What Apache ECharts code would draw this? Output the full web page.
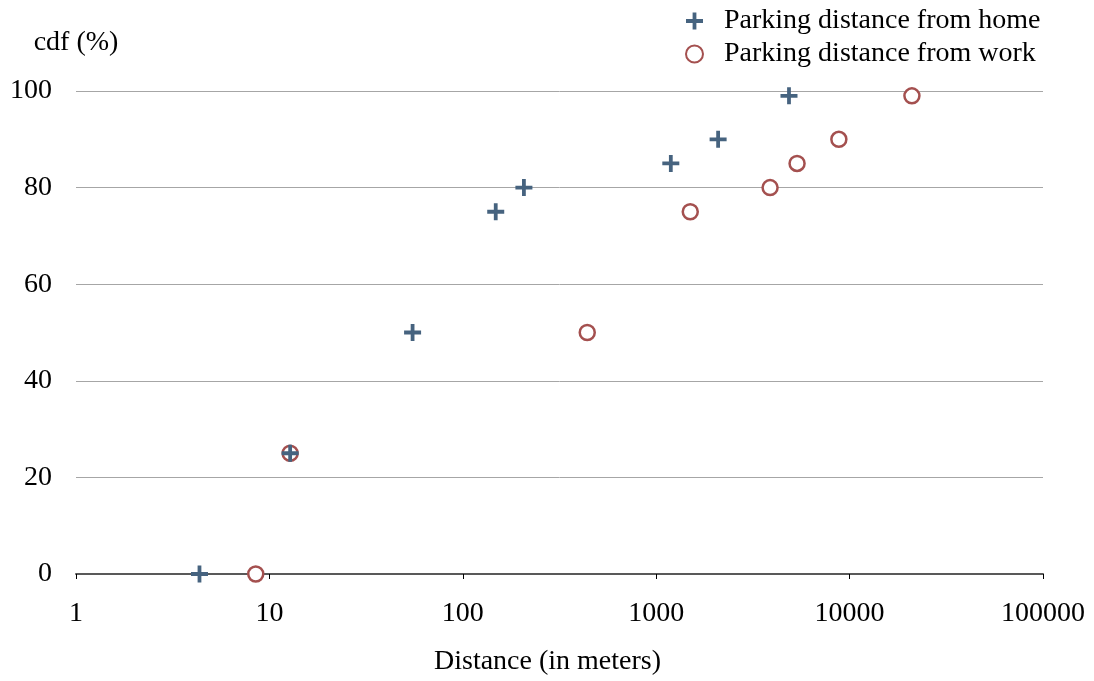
<!DOCTYPE html>
<html>
<head>
<meta charset="utf-8">
<script src="https://cdn.jsdelivr.net/npm/echarts@6/dist/echarts.min.js"></script>
<style>html,body{margin:0;padding:0;background:#fff;}#c{width:1094px;height:681px;}</style>
</head>
<body>
<div id="c"></div>
<script>
const seriesNames = ['Parking distance from home', 'Parking distance from work'];
const homeX = [4.35, 12.8, 55, 148, 207, 1190, 2090, 4860];
const homeY = [0, 25, 50, 75, 80, 85, 90, 99];
const workX = [8.5, 12.8, 440, 1500, 3880, 5350, 8800, 21000];
const workY = [0, 25, 50, 75, 80, 85, 90, 99];
const yTicks = [0, 20, 40, 60, 80, 100];

const FONT = 'Liberation Serif';
const FS = 28;
const plusPath = 'path://M7,0h4v7h7v4h-7v7h-4v-7h-7v-4h7z';
const chart = echarts.init(document.getElementById('c'), null, {renderer: 'canvas'});
chart.setOption({
  animation: false,
  backgroundColor: '#fff',
  textStyle: {fontFamily: FONT, color: '#000'},
  grid: {left: 76, right: 51, top: 91, bottom: 107},
  legend: {
    orient: 'vertical', left: 680, top: 2, itemGap: 5, itemWidth: 17, itemHeight: 17,
    data: seriesNames,
    textStyle: {fontFamily: FONT, fontSize: FS, color: '#000', padding: [0,0,0,16]}
  },
  xAxis: {
    type: 'log', logBase: 10, min: 1, max: 100000,
    name: 'Distance (in meters)', nameLocation: 'middle', nameGap: 74,
    nameTextStyle: {fontFamily: FONT, fontSize: FS, color: '#000', padding: [0, 24, 0, 0]},
    axisLine: {show: true, lineStyle: {color: '#595959', width: 2}},
    axisTick: {show: true, length: 5, lineStyle: {color: '#000', width: 1}},
    minorTick: {show: false},
    splitLine: {show: false},
    axisLabel: {fontFamily: FONT, fontSize: FS, color: '#000', margin: 26,
      formatter: v => String(Math.round(v))}
  },
  yAxis: {
    type: 'value', min: 0, max: 100, interval: 20,
    name: 'cdf (%)', nameLocation: 'end', nameGap: 34,
    nameTextStyle: {fontFamily: FONT, fontSize: FS, color: '#000', align: 'center'},
    axisLine: {show: false}, axisTick: {show: false},
    splitLine: {show: true, lineStyle: {color: '#a6a6a6', width: 1}},
    axisLabel: {fontFamily: FONT, fontSize: FS, color: '#000', margin: 24,
      formatter: v => yTicks.includes(v) ? String(v) : ''}
  },
  series: [
    {
      name: seriesNames[0], type: 'scatter', z: 4,
      symbol: plusPath, symbolSize: 17,
      itemStyle: {color: '#46637f', opacity: 1},
      data: homeX.map((x, i) => [x, homeY[i]])
    },
    {
      name: seriesNames[1], type: 'scatter', z: 3,
      symbol: 'circle', symbolSize: 15,
      itemStyle: {color: '#ffffff', borderColor: '#a4504f', borderWidth: 2.5, opacity: 1},
      data: workX.map((x, i) => [x, workY[i]])
    }
  ]
});
</script>
</body>
</html>
